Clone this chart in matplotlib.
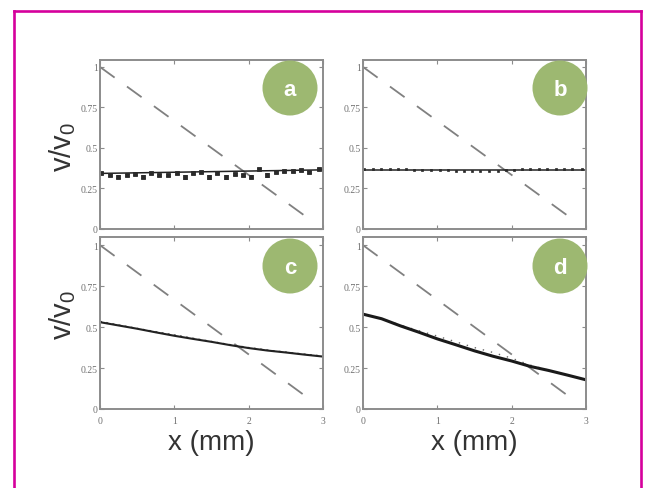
import numpy as np
import matplotlib
matplotlib.use("Agg")
import matplotlib.pyplot as plt
from matplotlib.patches import Ellipse
from matplotlib.lines import Line2D

plt.rcParams['font.family'] = ['Liberation Serif', 'DejaVu Serif']
plt.rcParams['mathtext.fontset'] = 'custom'
plt.rcParams['mathtext.rm'] = 'Liberation Sans'
plt.rcParams['mathtext.it'] = 'Liberation Sans'
plt.rcParams['lines.scale_dashes'] = False

# reference line (dashed)
dash_x = [0, 2.85]
dash_y = [1.0, 0.05]

# panel a: measured points + fit
a_x = [0.02, 0.13, 0.24, 0.36, 0.47, 0.58, 0.69, 0.80, 0.91, 1.03, 1.14, 1.25, 1.36, 1.47,
       1.58, 1.70, 1.81, 1.92, 2.03, 2.14, 2.25, 2.37, 2.48, 2.59, 2.70, 2.81, 2.95]
a_y = [0.344, 0.336, 0.323, 0.334, 0.340, 0.323, 0.348, 0.332, 0.332, 0.344, 0.319, 0.346,
       0.350, 0.319, 0.346, 0.323, 0.340, 0.332, 0.323, 0.369, 0.336, 0.352, 0.356, 0.356,
       0.365, 0.350, 0.369]
a_err = [0.006, 0.006, 0.010, 0.006, 0.006, 0.010, 0.006, 0.006, 0.006, 0.006, 0.012, 0.006,
         0.006, 0.012, 0.006, 0.012, 0.006, 0.006, 0.010, 0.006, 0.012, 0.006, 0.006, 0.006,
         0.006, 0.006, 0.006]
a_fit_x = [0, 3]
a_fit_y = [0.343, 0.365]

# panel b
b_x = a_x
b_y = [0.372, 0.373, 0.371, 0.372, 0.370, 0.368, 0.366, 0.365, 0.366, 0.364, 0.362, 0.360,
       0.358, 0.358, 0.357, 0.358, 0.360, 0.362, 0.365, 0.368, 0.369, 0.370, 0.371, 0.370,
       0.369, 0.370, 0.368]
b_fit_x = [0, 3]
b_fit_y = [0.365, 0.365]

# panels c and d: solid curve + dotted curve
cd_x = [0, 0.25, 0.5, 0.75, 1.0, 1.25, 1.5, 1.75, 2.0, 2.25, 2.5, 2.75, 3.0]
c_solid = [0.530, 0.510, 0.490, 0.468, 0.447, 0.428, 0.410, 0.390, 0.372, 0.357, 0.345, 0.332, 0.320]
c_dot = [0.535, 0.513, 0.492, 0.472, 0.452, 0.432, 0.412, 0.393, 0.375, 0.360, 0.347, 0.335, 0.323]
d_solid = [0.579, 0.551, 0.508, 0.469, 0.428, 0.392, 0.355, 0.322, 0.293, 0.260, 0.235, 0.207, 0.178]
d_dot = [0.579, 0.553, 0.512, 0.478, 0.445, 0.410, 0.375, 0.345, 0.310, 0.268, 0.237, 0.208, 0.180]

yticks = [0, 0.25, 0.5, 0.75, 1]
ytick_labels = ['0', '0.25', '0.5', '0.75', '1']
xticks = [0, 1, 2, 3]
xtick_labels = ['0', '1', '2', '3']
panel_letters = ['a', 'b', 'c', 'd']

W, H = 645, 489
fig = plt.figure(figsize=(W / 100, H / 100), dpi=100)
fig.patch.set_facecolor('white')

frame_col = '#8c8c8c'
tick_col = '#707070'
green = '#9db871'


def px_rect(left, top, right, bottom):
    return [left / W, 1 - bottom / H, (right - left) / W, (bottom - top) / H]


rects = [px_rect(100, 61, 323, 230), px_rect(363, 61, 586, 230),
         px_rect(100, 238, 323, 410), px_rect(363, 238, 586, 410)]
ytops = [1.043, 1.043, 1.05, 1.05]

axes = []
for i, r in enumerate(rects):
    ax = fig.add_axes(r)
    ax.set_xlim(0, 3)
    ax.set_ylim(0, ytops[i])
    ax.set_xticks(xticks)
    ax.set_yticks(yticks)
    ax.set_yticklabels(ytick_labels)
    if i < 2:
        ax.set_xticklabels([])
    else:
        ax.set_xticklabels(xtick_labels)
    ax.tick_params(direction='in', length=3, width=0.8, color=frame_col,
                   top=True, right=True, labelsize=7, labelcolor=tick_col)
    ax.tick_params(axis='y', pad=1.5)
    ax.tick_params(axis='x', pad=5)
    for s in ax.spines.values():
        s.set_color(frame_col)
        s.set_linewidth(1.4)
    ax.plot(dash_x, dash_y, color='#808080', lw=1.3, dashes=(13, 11))
    axes.append(ax)

# a
axes[0].plot(a_fit_x, a_fit_y, color='#222222', lw=1.1)
axes[0].errorbar(a_x, a_y, yerr=a_err, fmt='s', ms=2.4, mew=0.6, color='#2a2a2a',
                 elinewidth=0.8, capsize=1.3, capthick=0.8)
# b
axes[1].plot(b_fit_x, b_fit_y, color='#222222', lw=1.1)
axes[1].plot(b_x, b_y, 's', ms=2.0, mew=0.5, color='#2a2a2a')
# c
axes[2].plot(cd_x, c_dot, color='#555555', lw=1.0, ls=(0, (1.5, 3)))
axes[2].plot(cd_x, c_solid, color='#222222', lw=1.5)
# d
axes[3].plot(cd_x, d_dot, color='#666666', lw=1.0, ls=(0, (1, 5)))
axes[3].plot(cd_x, d_solid, color='#1a1a1a', lw=2.2)

# green circles with letters
centers = [(290, 89), (560, 89), (290, 267), (560, 267)]
for (cx, cy), letter in zip(centers, panel_letters):
    fig.add_artist(Ellipse((cx / W, 1 - cy / H), 55 / W, 55 / H, transform=fig.transFigure,
                           facecolor=green, edgecolor='none'))
    fig.text(cx / W, 1 - (cy + 1) / H, letter, color='white', fontsize=16,
             fontweight='bold', family=['Liberation Sans'], ha='center', va='center')

# axis labels
for cy in [147, 315]:
    fig.text(63 / W, 1 - cy / H, r'v/v$_0$', rotation=90, fontsize=21,
             family=['Liberation Sans'], color='#333333', ha='center', va='center')
for cx in [211.5, 474.5]:
    fig.text(cx / W, 1 - 443 / H, 'x (mm)', fontsize=20,
             family=['Liberation Sans'], color='#333333', ha='center', va='center')

# magenta frame
mag = '#d5009c'
fig.add_artist(Line2D([14 / W, 14 / W], [0, 1 - 11.5 / H], color=mag, lw=1.9,
                      transform=fig.transFigure))
fig.add_artist(Line2D([641 / W, 641 / W], [0, 1 - 11.5 / H], color=mag, lw=1.9,
                      transform=fig.transFigure))
fig.add_artist(Line2D([14 / W, 641 / W], [1 - 11.5 / H, 1 - 11.5 / H], color=mag, lw=1.9,
                      transform=fig.transFigure, solid_capstyle='projecting'))

fig.savefig('out.png', dpi=100)
